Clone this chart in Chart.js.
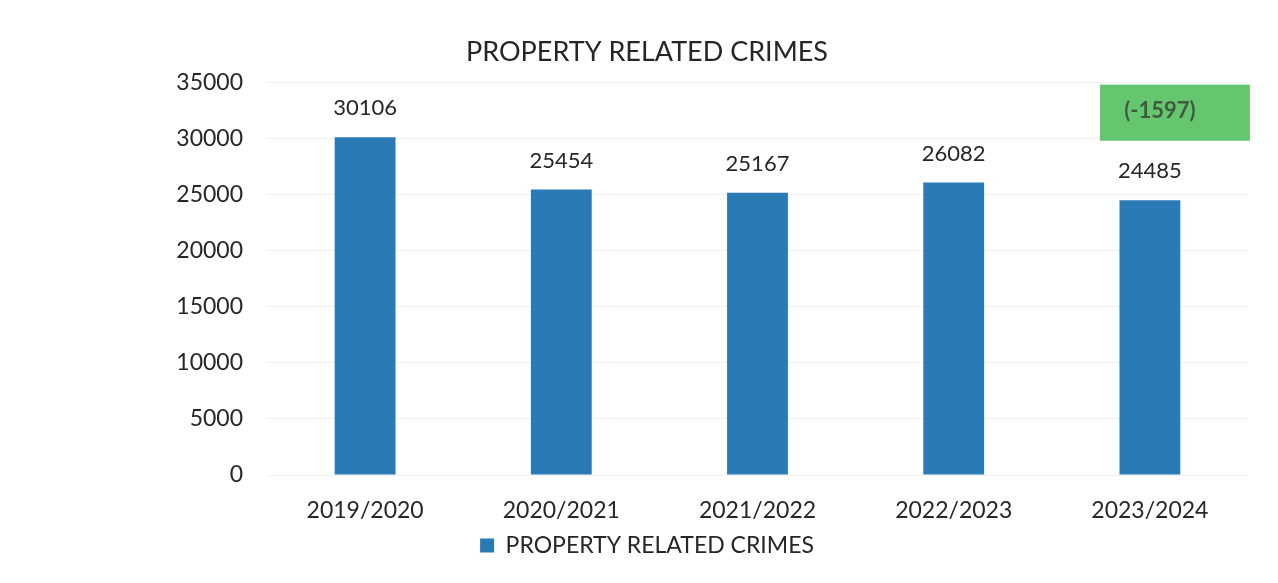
<!DOCTYPE html>
<html lang="en">

<head>
    <meta charset="UTF-8">
    <title>Property Related Crimes</title>
    <script src="https://cdn.jsdelivr.net/npm/chart.js@4.4.0/dist/chart.umd.min.js"></script>
    <style>
        html, body { margin: 0; padding: 0; background: #fff; }
        #wrap { width: 1278px; height: 583px; position: relative; }
    </style>
</head>

<body>
    <div id="wrap"><canvas id="chart"></canvas></div>
    <script>
        const years = ['2019/2020', '2020/2021', '2021/2022', '2022/2023', '2023/2024'],
            crimes = [30106, 25454, 25167, 26082, 24485],
            yTicks = [0, 5000, 10000, 15000, 20000, 25000, 30000, 35000],
            seriesName = 'PROPERTY RELATED CRIMES';

        const font = 'Lato, "Open Sans", sans-serif';

        // numbers above each bar, plus the green change box for the last year
        const barLabels = {
            id: 'barLabels',
            afterDatasetsDraw(chart) {
                const ctx = chart.ctx,
                    meta = chart.getDatasetMeta(0),
                    y = chart.scales.y;
                ctx.save();
                ctx.font = '22px ' + font;
                ctx.fillStyle = '#262626';
                ctx.textAlign = 'center';
                ctx.textBaseline = 'middle';
                meta.data.forEach((bar, i) => {
                    ctx.fillText(crimes[i], bar.x, bar.y - 29);
                });

                const last = meta.data[meta.data.length - 1],
                    change = crimes[crimes.length - 1] - crimes[crimes.length - 2],
                    boxTop = y.getPixelForValue(34800),
                    boxBottom = y.getPixelForValue(29800),
                    boxLeft = last.x - 50,
                    boxRight = last.x + 100;
                ctx.fillStyle = '#64c66f';
                ctx.fillRect(boxLeft, boxTop, boxRight - boxLeft, boxBottom - boxTop);
                ctx.font = 'bold 22px ' + font;
                ctx.fillStyle = '#3f5a3e';
                ctx.fillText('(' + change + ')', last.x + 10, (boxTop + boxBottom) / 2 - 2);
                ctx.restore();
            }
        };

        new Chart(document.getElementById('chart'), {
            type: 'bar',
            data: {
                labels: years,
                datasets: [{
                    label: seriesName,
                    data: crimes,
                    backgroundColor: '#2a7ab6',
                    categoryPercentage: 1,
                    barPercentage: 0.31
                }]
            },
            options: {
                responsive: true,
                maintainAspectRatio: false,
                animation: false,
                layout: { padding: { left: 16, right: 0, top: 20, bottom: 16 } },
                plugins: {
                    title: {
                        display: true,
                        text: seriesName,
                        color: '#262626',
                        font: { family: font, size: 27, weight: 'normal' },
                        padding: { top: 16, bottom: 14 }
                    },
                    legend: {
                        display: true,
                        position: 'bottom',
                        labels: {
                            color: '#262626',
                            font: { family: font, size: 23 },
                            boxWidth: 14,
                            boxHeight: 14,
                            padding: 10
                        }
                    },
                    tooltip: { enabled: false }
                },
                scales: {
                    x: {
                        grid: { display: false },
                        border: { display: false },
                        afterFit(scale) { scale.height = 49; },
                        ticks: { color: '#262626', font: { family: font, size: 23 }, padding: 14 }
                    },
                    y: {
                        min: 0,
                        max: 35000,
                        afterBuildTicks(scale) {
                            scale.ticks = yTicks.map(v => ({ value: v }));
                        },
                        afterFit(scale) { scale.width = 251; },
                        grid: { color: '#f0f0f0', drawTicks: false },
                        border: { display: false },
                        ticks: {
                            color: '#262626',
                            font: { family: font, size: 23 },
                            padding: 24,
                            callback: v => String(v)
                        }
                    },
                    // empty right-hand axis, keeps a small margin right of the bars
                    y2: {
                        position: 'right',
                        grid: { display: false },
                        border: { display: false },
                        ticks: { display: false },
                        afterFit(scale) { scale.width = 30; }
                    }
                }
            },
            plugins: [barLabels]
        });
    </script>
</body>

</html>
